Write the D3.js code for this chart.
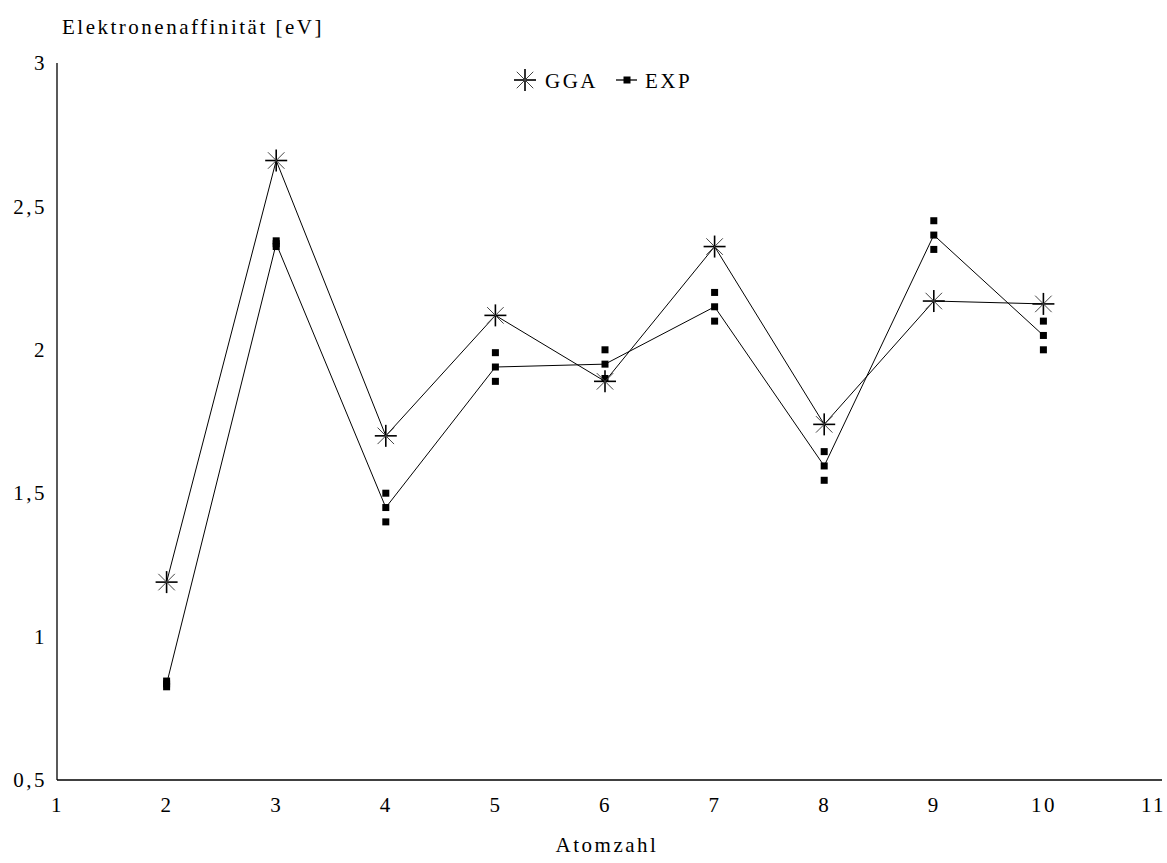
<!DOCTYPE html>
<html>
<head>
<meta charset="utf-8">
<script src="https://cdn.jsdelivr.net/npm/d3@7"></script>
<style>
  body { margin: 0; background: #fff; }
  svg text { font-family: "Liberation Serif", "DejaVu Serif", serif; fill: #000; font-size: 21px; letter-spacing: 2.5px; }
</style>
</head>
<body>
<svg id="chart" width="1167" height="863"></svg>
<script>
const atomzahl = [2, 3, 4, 5, 6, 7, 8, 9, 10]
const gga = [1.19, 2.66, 1.70, 2.12, 1.89, 2.36, 1.74, 2.17, 2.16]
const exp = [0.835, 2.37, 1.45, 1.94, 1.95, 2.15, 1.595, 2.40, 2.05]
const expErr = [0.01, 0.01, 0.05, 0.05, 0.05, 0.05, 0.05, 0.05, 0.05]
const xTicks = [1, 2, 3, 4, 5, 6, 7, 8, 9, 10, 11]
const yTicks = [0.5, 1, 1.5, 2, 2.5, 3]

const svg = d3.select("#chart")

const x = d3.scaleLinear().domain([1, 11]).range([57, 1153])
const y = d3.scaleLinear().domain([0.5, 3]).range([780, 63])
const fmt = v => String(v).replace(".", ",")

// axes without tick marks
const xAxis = d3.axisBottom(x).tickValues(xTicks).tickSize(0).tickPadding(17).tickFormat(d => d)
svg.append("g").attr("transform", "translate(0,780)").call(xAxis)
  .call(g => g.select(".domain").remove())
  .attr("font-family", null).attr("font-size", null)
svg.append("line").attr("x1", 57).attr("x2", 1162).attr("y1", 780).attr("y2", 780)
  .attr("stroke", "#000").attr("stroke-width", 1.3)

const yAxis = d3.axisLeft(y).tickValues(yTicks).tickSize(0).tickPadding(10).tickFormat(fmt)
svg.append("g").attr("transform", "translate(57,0)").call(yAxis)
  .call(g => g.select(".domain").remove())
  .attr("font-family", null).attr("font-size", null)
svg.append("line").attr("x1", 57).attr("x2", 57).attr("y1", 63).attr("y2", 780)
  .attr("stroke", "#000").attr("stroke-width", 1.3)

svg.append("text").attr("x", 62).attr("y", 34)
  .text("Elektronenaffinität [eV]")
svg.append("text").attr("x", 607).attr("y", 852).attr("text-anchor", "middle")
  .text("Atomzahl")

const line = d3.line().x(d => x(d[0])).y(d => y(d[1]))

const ggaPts = atomzahl.map((a, i) => [a, gga[i]])
const expPts = atomzahl.map((a, i) => [a, exp[i]])

svg.append("path").datum(expPts).attr("d", line)
  .attr("fill", "none").attr("stroke", "#000").attr("stroke-width", 1)
svg.append("path").datum(ggaPts).attr("d", line)
  .attr("fill", "none").attr("stroke", "#000").attr("stroke-width", 1)

// EXP squares: value and +/- error
const sq = 7
const expSquares = []
atomzahl.forEach((a, i) => {
  [-1, 0, 1].forEach(k => expSquares.push([a, exp[i] + k * expErr[i]]))
})
svg.append("g").selectAll("rect").data(expSquares).join("rect")
  .attr("x", d => x(d[0]) - sq / 2).attr("y", d => y(d[1]) - sq / 2)
  .attr("width", sq).attr("height", sq).attr("fill", "#000")

// GGA star markers
function star(g, r) {
  g.append("line").attr("x1", -r).attr("x2", r).attr("y1", 0).attr("y2", 0)
    .attr("stroke", "#000").attr("stroke-width", 1.6)
  g.append("line").attr("x1", 0).attr("x2", 0).attr("y1", -r).attr("y2", r)
    .attr("stroke", "#000").attr("stroke-width", 1.6)
  const d = r * 0.75
  g.append("line").attr("x1", -d).attr("x2", d).attr("y1", -d).attr("y2", d)
    .attr("stroke", "#444").attr("stroke-width", 1)
  g.append("line").attr("x1", -d).attr("x2", d).attr("y1", d).attr("y2", -d)
    .attr("stroke", "#444").attr("stroke-width", 1)
}
svg.append("g").selectAll("g").data(ggaPts).join("g")
  .attr("transform", d => `translate(${x(d[0])},${y(d[1])})`)
  .each(function () { star(d3.select(this), 11) })

// legend
const leg = svg.append("g")
star(leg.append("g").attr("transform", "translate(525,80)"), 11)
leg.append("text").attr("x", 545).attr("y", 88).text("GGA")
leg.append("line").attr("x1", 616).attr("x2", 637).attr("y1", 80).attr("y2", 80)
  .attr("stroke", "#000").attr("stroke-width", 1.3)
leg.append("rect").attr("x", 627 - sq / 2).attr("y", 80 - sq / 2)
  .attr("width", sq).attr("height", sq).attr("fill", "#000")
leg.append("text").attr("x", 645).attr("y", 88).text("EXP")
</script>
</body>
</html>
